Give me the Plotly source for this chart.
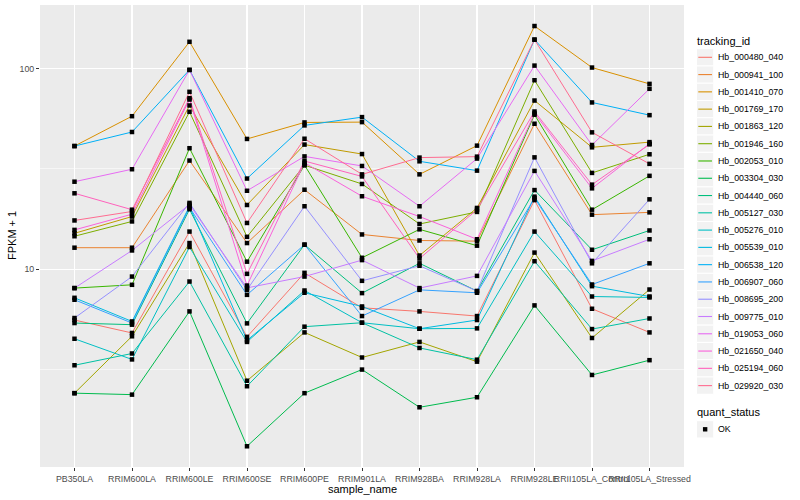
import plotly.graph_objects as go

samples = ["PB350LA", "RRIM600LA", "RRIM600LE", "RRIM600SE", "RRIM600PE", "RRIM901LA",
           "RRIM928BA", "RRIM928LA", "RRIM928LE", "RRII105LA_Control", "RRII105LA_Stressed"]

Hb_000480_040 = [5.58, 4.81, 15.4, 4.60, 9.59, 6.42, 6.16, 5.84, 22.1, 6.35, 4.84]
Hb_000941_100 = [12.8, 12.8, 34.8, 13.5, 24.9, 14.9, 13.9, 13.8, 53.1, 18.7, 19.2]
Hb_001410_070 = [41.1, 57.9, 136, 44.6, 53.9, 54.1, 29.7, 41.3, 163, 101.2, 83.9]
Hb_001769_170 = [15.1, 18.3, 65.5, 20.9, 41.8, 37.5, 11.7, 20.2, 69.3, 40.5, 43.0]
Hb_001863_120 = [2.41, 4.63, 13.5, 2.78, 4.84, 3.63, 4.34, 3.46, 12.1, 4.54, 7.92]
Hb_001946_160 = [14.6, 17.3, 60.9, 14.5, 33.0, 26.6, 16.8, 19.3, 87.5, 30.2, 37.4]
Hb_002053_010 = [8.05, 8.36, 40.1, 10.9, 33.0, 11.4, 15.8, 13.1, 58.9, 19.8, 29.2]
Hb_003304_030 = [2.41, 2.37, 6.16, 1.31, 2.41, 3.16, 2.05, 2.30, 6.60, 2.97, 3.52]
Hb_004440_060 = [5.39, 5.29, 19.9, 5.37, 13.25, 7.60, 10.7, 7.78, 24.8, 12.5, 15.6]
Hb_005127_030 = [3.32, 3.80, 8.68, 2.61, 5.17, 5.41, 4.05, 3.54, 10.96, 5.03, 5.68]
Hb_005276_010 = [4.50, 3.55, 12.9, 4.34, 7.83, 5.41, 5.05, 5.07, 15.4, 7.31, 7.23]
Hb_005539_010 = [7.20, 5.49, 20.6, 4.42, 7.63, 6.52, 5.05, 5.58, 23.0, 8.23, 7.31]
Hb_006538_120 = [41.1, 48.3, 98.5, 28.3, 52.1, 57.3, 34.5, 31.0, 139.4, 67.8, 58.6]
Hb_006907_060 = [7.04, 5.39, 20.3, 7.45, 13.25, 5.84, 7.89, 7.63, 22.6, 8.39, 10.7]
Hb_008695_200 = [5.71, 9.19, 21.4, 7.89, 20.6, 8.75, 10.4, 7.78, 36.1, 10.7, 22.3]
Hb_009775_010 = [8.05, 12.4, 21.0, 8.07, 9.19, 11.1, 8.05, 9.26, 30.9, 11.0, 14.1]
Hb_019053_060 = [27.3, 31.5, 98.5, 24.6, 36.5, 32.7, 20.6, 35.6, 103.5, 41.6, 79.3]
Hb_021650_040 = [15.7, 18.8, 70.1, 8.29, 33.9, 23.1, 18.3, 14.1, 59.8, 25.3, 42.2]
Hb_025194_060 = [23.9, 19.8, 71.2, 9.48, 34.6, 29.0, 11.3, 19.8, 61.1, 26.4, 41.9]
Hb_029920_030 = [17.5, 19.4, 76.6, 17.0, 44.7, 29.7, 36.0, 36.4, 139.4, 48.1, 33.5]

tracking_ids = ["Hb_000480_040", "Hb_000941_100", "Hb_001410_070", "Hb_001769_170",
                "Hb_001863_120", "Hb_001946_160", "Hb_002053_010", "Hb_003304_030",
                "Hb_004440_060", "Hb_005127_030", "Hb_005276_010", "Hb_005539_010",
                "Hb_006538_120", "Hb_006907_060", "Hb_008695_200", "Hb_009775_010",
                "Hb_019053_060", "Hb_021650_040", "Hb_025194_060", "Hb_029920_030"]
series = [Hb_000480_040, Hb_000941_100, Hb_001410_070, Hb_001769_170, Hb_001863_120,
          Hb_001946_160, Hb_002053_010, Hb_003304_030, Hb_004440_060, Hb_005127_030,
          Hb_005276_010, Hb_005539_010, Hb_006538_120, Hb_006907_060, Hb_008695_200,
          Hb_009775_010, Hb_019053_060, Hb_021650_040, Hb_025194_060, Hb_029920_030]
colors = ["#F8766D", "#EA8331", "#D89000", "#C09B00", "#A3A500", "#7CAE00", "#39B600",
          "#00BB4E", "#00BF7D", "#00C1A3", "#00BFC4", "#00BAE0", "#00B0F6", "#35A2FF",
          "#9590FF", "#C77CFF", "#E76BF3", "#FA62DB", "#FF62BC", "#FF6C91"]
quant_status = ["OK"]

W, H = 800, 500
ML, MR, MT, MB = 40, 116, 5, 33
PW, PH = W - ML - MR, H - MT - MB
FONT = "Liberation Sans"


def px(x):
    return (x - ML) / PW


def py(y):
    return (H - MB - y) / PH


fig = go.Figure()
for name, vals, col in zip(tracking_ids, series, colors):
    fig.add_trace(go.Scatter(x=samples, y=vals, mode="lines", name=name,
                             line=dict(color=col, width=1), showlegend=False))
for name, vals in zip(tracking_ids, series):
    fig.add_trace(go.Scatter(x=samples, y=vals, mode="markers", name=name,
                             marker=dict(color="black", symbol="square", size=4.5,
                                         line=dict(width=0)),
                             showlegend=False))

shapes = []
annotations = []

# axis titles
annotations.append(dict(text="sample_name", x=0.5, y=py(489), xref="paper", yref="paper",
                        showarrow=False, xanchor="center", yanchor="middle",
                        font=dict(family=FONT, size=11, color="black")))
annotations.append(dict(text="FPKM + 1", x=px(12), y=0.5, xref="paper", yref="paper",
                        showarrow=False, xanchor="center", yanchor="middle", textangle=-90,
                        font=dict(family=FONT, size=11, color="black")))

# legend: tracking_id
KX0, KS = 696.5, 17.28
annotations.append(dict(text="tracking_id", x=px(695), y=py(40.7), xref="paper", yref="paper",
                        showarrow=False, xanchor="left", yanchor="middle",
                        font=dict(family=FONT, size=11, color="black")))
for i, (name, col) in enumerate(zip(tracking_ids, colors)):
    yc = 57.3 + KS * i
    shapes.append(dict(type="rect", xref="paper", yref="paper",
                       x0=px(KX0), x1=px(KX0 + KS), y0=py(yc - KS / 2), y1=py(yc + KS / 2),
                       fillcolor="#F2F2F2", line=dict(color="white", width=1), layer="above"))
    shapes.append(dict(type="line", xref="paper", yref="paper",
                       x0=px(KX0 + 1.8), x1=px(KX0 + KS - 1.8), y0=py(yc), y1=py(yc),
                       line=dict(color=col, width=1.1), layer="above"))
    annotations.append(dict(text=name, x=px(715.5), y=py(yc), xref="paper", yref="paper",
                            showarrow=False, xanchor="left", yanchor="middle",
                            font=dict(family=FONT, size=8.8, color="black")))

# legend: quant_status
annotations.append(dict(text="quant_status", x=px(695), y=py(412.3), xref="paper", yref="paper",
                        showarrow=False, xanchor="left", yanchor="middle",
                        font=dict(family=FONT, size=11, color="black")))
for j, q in enumerate(quant_status):
    yc = 429.3 + KS * j
    shapes.append(dict(type="rect", xref="paper", yref="paper",
                       x0=px(KX0), x1=px(KX0 + KS), y0=py(yc - KS / 2), y1=py(yc + KS / 2),
                       fillcolor="#F2F2F2", line=dict(color="white", width=1), layer="above"))
    xm = KX0 + KS / 2
    shapes.append(dict(type="rect", xref="paper", yref="paper",
                       x0=px(xm - 2.2), x1=px(xm + 2.2), y0=py(yc - 2.2), y1=py(yc + 2.2),
                       fillcolor="black", line=dict(width=0), layer="above"))
    annotations.append(dict(text=q, x=px(715.5), y=py(yc), xref="paper", yref="paper",
                            showarrow=False, xanchor="left", yanchor="middle",
                            font=dict(family=FONT, size=8.8, color="black")))

fig.update_layout(
    width=W, height=H,
    margin=dict(l=ML, r=MR, t=MT, b=MB, pad=0),
    paper_bgcolor="white", plot_bgcolor="#EBEBEB",
    showlegend=False,
    shapes=shapes, annotations=annotations,
    font=dict(family=FONT),
    xaxis=dict(type="category", range=[-0.6, len(samples) - 0.4],
               tickmode="array", tickvals=samples, ticktext=samples, tickangle=0,
               showgrid=True, gridcolor="white", gridwidth=1.1, zeroline=False,
               showline=False, ticks="outside", ticklen=3, tickwidth=1, tickcolor="#333333",
               tickfont=dict(family=FONT, size=8.8, color="#4D4D4D")),
    yaxis=dict(type="log", range=[0.014, 2.317],
               tickmode="array", tickvals=[10, 100], ticktext=["10", "100"],
               showgrid=True, gridcolor="white", gridwidth=1.1, zeroline=False,
               showline=False, ticks="outside", ticklen=3, tickwidth=1, tickcolor="#333333",
               tickfont=dict(family=FONT, size=8.8, color="#4D4D4D"),
               minor=dict(tickmode="array", tickvals=[3.1623, 31.623], showgrid=True,
                          gridcolor="white", gridwidth=0.55, ticks="")),
)

fig.write_html("out.html",
               config={"displayModeBar": False, "staticPlot": True},
               post_script="document.body.style.margin='0px';document.body.style.overflow='hidden';")
